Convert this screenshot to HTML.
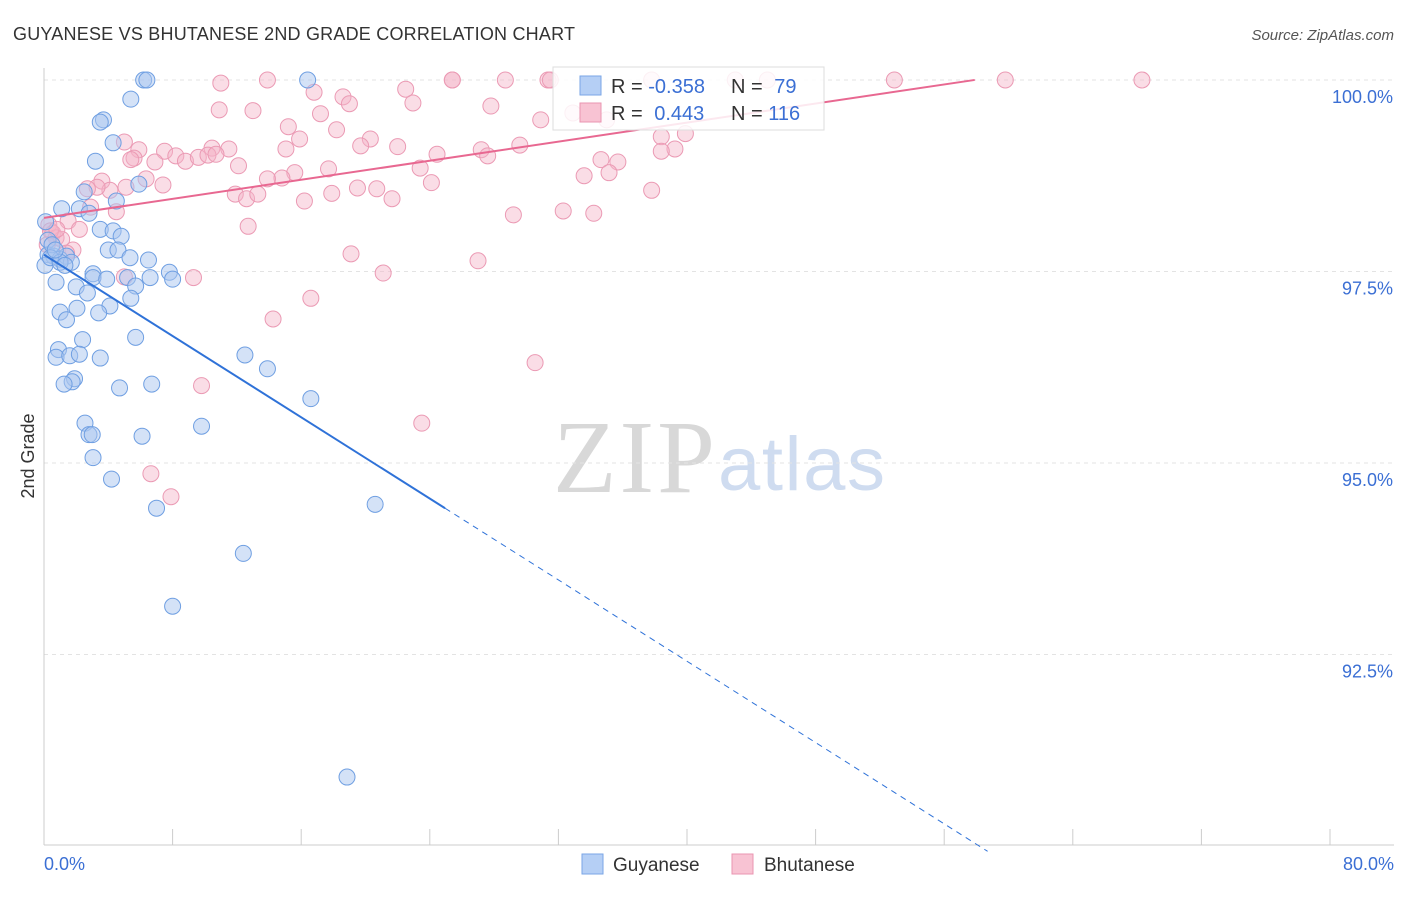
<!DOCTYPE html>
<html><head><meta charset="utf-8"><style>
body{margin:0;background:#fff;font-family:"Liberation Sans",sans-serif;}
svg text{font-family:"Liberation Sans",sans-serif;}
</style></head><body>
<svg id="chart" width="1406" height="892" xmlns="http://www.w3.org/2000/svg">
<text x="13" y="40" font-size="18" fill="#333" textLength="562">GUYANESE VS BHUTANESE 2ND GRADE CORRELATION CHART</text>
<text x="1394" y="40" font-size="15" fill="#555" text-anchor="end" font-style="italic">Source: ZipAtlas.com</text>
<g>
<text x="553" y="492" font-size="104" fill="#d8d8d8" style="font-family:'Liberation Serif',serif" textLength="162">ZIP</text>
<text x="718" y="490" font-size="76" fill="#cfdcf0" textLength="167">atlas</text>
</g>
<g id="grid"></g><g id="axes"></g><g id="pink"></g><g id="blue"></g><g id="lines"></g>
<text transform="translate(34,456) rotate(-90)" font-size="18" fill="#333" text-anchor="middle">2nd Grade</text>
<g>
<rect x="553" y="67" width="271" height="63" fill="#fff" fill-opacity="0.85" stroke="#ddd"/>
<rect x="580" y="76" width="21" height="19" fill="#b5cff5" stroke="#7aa6e6"/>
<rect x="580" y="103" width="21" height="19" fill="#f8c3d3" stroke="#ea94b0"/>
<text x="611" y="93" font-size="20" fill="#333">R = <tspan fill="#3b6fd4">-0.358</tspan></text>
<text x="731" y="93" font-size="20" fill="#333">N = <tspan dx="6" fill="#3b6fd4">79</tspan></text>
<text x="611" y="120" font-size="20" fill="#333">R = <tspan dx="6" fill="#3b6fd4">0.443</tspan></text>
<text x="731" y="120" font-size="20" fill="#333">N = <tspan fill="#3b6fd4">116</tspan></text>
</g>
<g>
<rect x="582" y="854" width="21" height="20" fill="#b5cff5" stroke="#7aa6e6"/>
<text x="613" y="871" font-size="19" fill="#333">Guyanese</text>
<rect x="732" y="854" width="21" height="20" fill="#f8c3d3" stroke="#ea94b0"/>
<text x="764" y="871" font-size="19" fill="#333">Bhutanese</text>
</g>
</svg>
<script>
const blueX=[6.2,6.4,16.4,5.4,3.7,3.5,4.3,3.2,5.9,2.5,4.5,1.1,2.2,2.8,0.1,3.5,4.3,4.8,4.0,4.6,0.25,0.6,1.0,1.4,1.7,5.35,6.5,7.8,3.05,3.05,5.2,3.9,6.6,8.0,0.75,2.0,2.7,5.7,5.4,4.1,2.05,3.4,1.0,1.4,2.4,5.7,0.9,0.75,1.6,2.2,3.5,12.5,13.9,1.9,1.75,1.25,4.7,6.7,16.6,2.55,9.8,2.8,3.0,6.1,3.05,4.2,20.6,7.0,12.4,8.0,18.85,0.25,0.5,0.06,0.4,1.0,1.3,0.7];
const blueY=[100,100,100,99.75,99.48,99.45,99.18,98.94,98.64,98.54,98.42,98.32,98.32,98.26,98.15,98.05,98.03,97.96,97.78,97.78,97.72,97.70,97.66,97.70,97.62,97.68,97.65,97.49,97.47,97.42,97.42,97.40,97.42,97.40,97.36,97.30,97.22,97.31,97.15,97.05,97.02,96.96,96.97,96.87,96.61,96.64,96.48,96.38,96.40,96.42,96.37,96.41,96.23,96.10,96.06,96.03,95.98,96.03,95.84,95.52,95.48,95.37,95.37,95.35,95.07,94.79,94.46,94.41,93.82,93.13,90.90,97.91,97.85,97.58,97.68,97.62,97.58,97.78];
const pinkX=[11.0,13.9,25.4,25.4,28.7,31.35,31.5,37.8,43.0,45.0,52.9,59.8,68.3,16.8,22.5,18.6,19.0,22.95,27.8,10.9,13.0,17.2,30.9,32.9,35.0,15.2,18.2,15.9,5.0,20.3,19.7,22.0,15.05,11.5,10.45,5.9,7.5,8.2,8.8,9.6,10.2,10.7,5.6,5.4,6.9,24.45,27.2,27.6,29.6,38.4,39.25,38.4,39.9,34.65,35.7,35.15,33.6,17.7,23.4,15.6,14.8,13.9,12.1,6.35,7.4,3.6,4.1,5.1,3.3,2.7,11.9,12.6,13.3,19.5,20.7,17.9,16.2,21.65,24.1,37.8,29.2,32.3,34.2,4.5,2.9,1.5,2.2,0.3,0.55,0.75,1.1,12.7,19.1,1.8,1.4,5.0,9.3,21.1,27.0,16.6,14.25,30.55,9.8,23.5,6.65,7.9,0.4,0.8,0.2];
const pinkY=[99.96,100,100,100,100,100,100,100,100,100,100,100,100,99.84,99.88,99.78,99.69,99.70,99.66,99.61,99.60,99.56,99.48,99.57,99.48,99.39,99.35,99.23,99.19,99.23,99.14,99.13,99.10,99.10,99.11,99.09,99.07,99.01,98.94,98.99,99.02,99.03,98.98,98.96,98.93,99.03,99.09,99.01,99.15,99.26,99.10,99.07,99.30,98.96,98.93,98.79,98.75,98.84,98.85,98.79,98.72,98.71,98.88,98.71,98.63,98.68,98.56,98.60,98.60,98.58,98.51,98.45,98.51,98.59,98.58,98.52,98.42,98.45,98.66,98.56,98.24,98.29,98.26,98.28,98.34,98.16,98.05,98.11,98.00,97.94,97.92,98.09,97.73,97.78,97.74,97.43,97.42,97.48,97.64,97.15,96.88,96.31,96.01,95.52,94.86,94.56,98.03,98.05,97.85];
const yTicks=[100,97.5,95,92.5];
const yTickLabels=["100.0%","97.5%","95.0%","92.5%"];
const blueTrend=[97.72,-0.1327,24.95,58.7];
const pinkTrend=[98.20,0.0311,57.9];
const NS="http://www.w3.org/2000/svg";
const X=v=>44+v*16.075, Y=v=>80+(100-v)*76.6;
function mk(p,t,a){const e=document.createElementNS(NS,t);for(const k in a)e.setAttribute(k,a[k]);document.getElementById(p).appendChild(e);return e;}
yTicks.forEach((t,i)=>{
 const l=mk('grid','line',{x1:44,x2:1394,y1:Y(t),y2:Y(t),stroke:'#e3e3e3','stroke-dasharray':'4,4'});
 
 
 const tx=mk('grid','text',{x:1393,y:Y(t)+23,'font-size':18,fill:'#3b6fd4','text-anchor':'end'});
 tx.textContent=yTickLabels[i];
 
 
});
const ax=mk('axes','line',{x1:44,x2:44,y1:68,y2:845,stroke:'#ccc'});


const bx=mk('axes','line',{x1:44,x2:1394,y1:845,y2:845,stroke:'#ccc'});


for(let i=0;i<=10;i++){const t=mk('axes','line',{x1:X(i*8),x2:X(i*8),y1:829,y2:845,stroke:'#ccc'});
 
 }
const x0=mk('axes','text',{x:44,y:870,'font-size':18,fill:'#3b6fd4'});x0.textContent='0.0%';


const x1=mk('axes','text',{x:1394,y:870,'font-size':18,fill:'#3b6fd4','text-anchor':'end'});x1.textContent='80.0%';


pinkX.forEach((x,i)=>{const c=mk('pink','circle',{cx:X(x),cy:Y(pinkY[i]),r:8,fill:'#f5b3c8','fill-opacity':0.45,stroke:'#eb9ab4','stroke-width':1});
 
 });
blueX.forEach((x,i)=>{const c=mk('blue','circle',{cx:X(x),cy:Y(blueY[i]),r:8,fill:'#a9c6f0','fill-opacity':0.5,stroke:'#6f9fe2','stroke-width':1});
 
 });
const b=blueTrend;
const l1=mk('lines','line',{x1:X(0),y1:Y(b[0]),x2:X(b[2]),y2:Y(b[0]+b[1]*b[2]),stroke:'#2f72d8','stroke-width':2});


const l2=mk('lines','line',{x1:X(b[2]),y1:Y(b[0]+b[1]*b[2]),x2:X(b[3]),y2:Y(b[0]+b[1]*b[3]),stroke:'#2f72d8','stroke-width':1,'stroke-dasharray':'6,5'});


const p=pinkTrend;
const l3=mk('lines','line',{x1:X(0),y1:Y(p[0]),x2:X(p[2]),y2:Y(p[0]+p[1]*p[2]),stroke:'#e86891','stroke-width':2});


</script>
</body></html>
